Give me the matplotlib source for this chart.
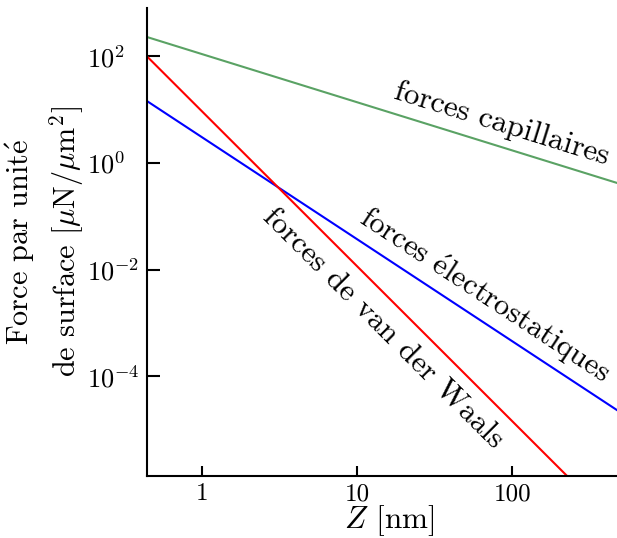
import matplotlib
matplotlib.use("Agg")
import matplotlib.pyplot as plt
from matplotlib.ticker import FixedLocator, FixedFormatter, NullLocator

plt.rcParams['font.family'] = ['cmr10', 'DejaVu Serif']
plt.rcParams['mathtext.fontset'] = 'cm'
plt.rcParams['axes.formatter.use_mathtext'] = True

# Data (log-log straight lines, endpoints)
z_cap = [0.44, 475]
f_cap = [230, 0.42]
z_elec = [0.44, 475]
f_elec = [14.5, 2.3e-5]
z_vdw = [0.44, 226]
f_vdw = [100, 1.34e-6]

x_ticks = [1, 10, 100]
x_ticklabels = ['1', '10', '100']
y_ticks = [1e2, 1e0, 1e-2, 1e-4]
y_ticklabels = [r'$10^{2}$', r'$10^{0}$', r'$10^{-2}$', r'$10^{-4}$']

fig = plt.figure(figsize=(6.17, 5.38), dpi=100)
ax = fig.add_axes([0.238, 0.1152, 0.762, 0.870])

ax.plot(z_cap, f_cap, color='#5aa264', lw=1.5)
ax.plot(z_elec, f_elec, color='blue', lw=1.5)
ax.plot(z_vdw, f_vdw, color='red', lw=1.5)

ax.set_xscale('log')
ax.set_yscale('log')
ax.set_xlim(0.44, 474)
ax.set_ylim(1.34e-6, 805)

ax.xaxis.set_major_locator(FixedLocator(x_ticks))
ax.xaxis.set_major_formatter(FixedFormatter(x_ticklabels))
ax.xaxis.set_minor_locator(NullLocator())
ax.yaxis.set_major_locator(FixedLocator(y_ticks))
ax.yaxis.set_major_formatter(FixedFormatter(y_ticklabels))
ax.yaxis.set_minor_locator(NullLocator())

for s in ['top', 'right']:
    ax.spines[s].set_visible(False)
for s in ['left', 'bottom']:
    ax.spines[s].set_linewidth(1.5)

ax.tick_params(axis='x', direction='in', length=7, width=1.5, labelsize=18, pad=5)
ax.tick_params(axis='y', direction='in', length=9, width=1.5, labelsize=19, pad=43)
for lab in ax.get_yticklabels():
    lab.set_horizontalalignment('left')

ax.set_xlabel(r'$Z$ [nm]', fontsize=22.5, labelpad=-1.5, x=0.516)
ax.set_ylabel('Force par unit$\\mathrm{\\acute{e}}$\nde surface [$\\mu$N/$\\mu$m$^2$]',
              fontsize=21.8, labelpad=1, linespacing=1.35)

ax.text(86, 5.4, 'forces capillaires', rotation=-17.3, rotation_mode='anchor',
        ha='center', va='center', fontsize=22.5)
ax.text(67, 3.25e-3, 'forces $\\mathrm{\\acute{e}}$lectrostatiques', rotation=-33.3,
        rotation_mode='anchor', ha='center', va='center', fontsize=22)
ax.text(14.7, 7.8e-4, 'forces de van der Waals', rotation=-44.9, rotation_mode='anchor',
        ha='center', va='center', fontsize=22.5)

fig.savefig('out.png', dpi=100)
